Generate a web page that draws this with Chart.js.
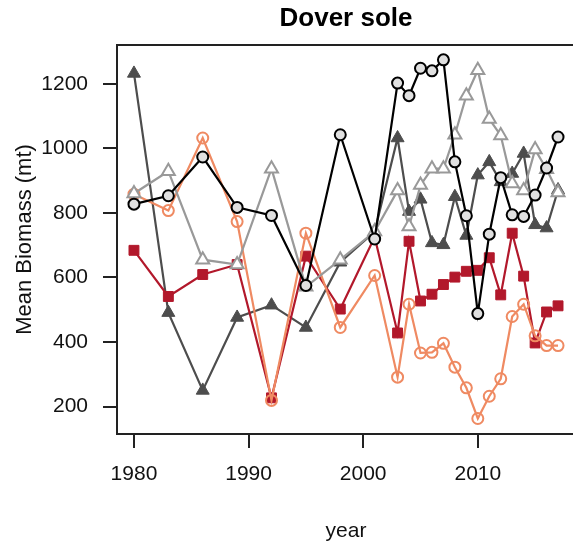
<!DOCTYPE html>
<html>
<head>
<meta charset="utf-8">
<script src="https://cdn.jsdelivr.net/npm/chart.js@4/dist/chart.umd.min.js"></script>
<style>
  html, body { margin: 0; padding: 0; background: #fff; overflow: hidden; }
  #wrap { width: 573px; height: 550px; overflow: hidden; }
</style>
</head>
<body>
<div id="wrap"><canvas id="soleChart" width="600" height="550"></canvas></div>
<script>
// survey years
const years = [1980, 1983, 1986, 1989, 1992, 1995, 1998, 2001, 2003, 2004, 2005, 2006,
    2007, 2008, 2009, 2010, 2011, 2012, 2013, 2014, 2015, 2016, 2017];

// mean biomass (mt) per series
const blackCircles = [827, 853, 973, 817, 792, 575, 1042, 719, 1202, 1163, 1248, 1240,
    1274, 958, 791, 488, 734, 909, 794, 789, 855, 939, 1035];
const greyOpenTriangles = [860, 929, 655, 640, 937, 571, 655, 742, 869, 758, 886, 937,
    937, 1042, 1163, 1242, 1091, 1040, 891, 869, 996, 935, 863];
const orangeOpenCircles = [858, 807, 1032, 773, 219, 737, 445, 606, 291, 517, 366, 368,
    396, 322, 258, 163, 232, 286, 479, 517, 419, 389, 389];
const redSquares = [684, 541, 609, 640, 227, 666, 502, 725, 428, 712, 527, 548,
    578, 601, 619, 622, 661, 546, 737, 604, 397, 493, 512];
const darkTriangles = [1232, 491, 250, 476, 514, 445, 647, 742, 1032, 804, 842, 707,
    701, 850, 730, 917, 958, 896, 922, 984, 763, 753, 871];

const xTicks = [1980, 1990, 2000, 2010];
const yTicks = [200, 400, 600, 800, 1000, 1200];

function toPoints(values) {
    return values.map((v, i) => ({ x: years[i], y: v }));
}

// top edge of the box (left + bottom come from the axis borders, right is off-canvas)
const topFrame = {
    id: 'topFrame',
    afterDraw(chart) {
        const { ctx, chartArea } = chart;
        ctx.save();
        ctx.strokeStyle = '#222';
        ctx.lineWidth = 2;
        ctx.beginPath();
        ctx.moveTo(chartArea.left - 1, chartArea.top);
        ctx.lineTo(chartArea.right + 1, chartArea.top);
        ctx.stroke();
        ctx.restore();
    }
};

const font = { family: '"Liberation Sans", Arial, sans-serif', size: 21 };

const ctx = document.getElementById('soleChart').getContext('2d');
new Chart(ctx, {
    type: 'line',
    data: {
        datasets: [
            {
                data: toPoints(blackCircles),
                borderColor: '#000', borderWidth: 2.2,
                pointStyle: 'circle', pointRadius: 5.5,
                pointBackgroundColor: '#E0E0E0', pointBorderColor: '#000', pointBorderWidth: 2
            },
            {
                data: toPoints(greyOpenTriangles),
                borderColor: '#999999', borderWidth: 2.2,
                pointStyle: 'triangle', pointRadius: 7.5,
                pointBackgroundColor: '#fff', pointBorderColor: '#999999', pointBorderWidth: 2
            },
            {
                data: toPoints(orangeOpenCircles),
                borderColor: '#EF8A62', borderWidth: 2.2,
                pointStyle: 'circle', pointRadius: 5.5,
                pointBackgroundColor: 'rgba(0,0,0,0)', pointBorderColor: '#EF8A62', pointBorderWidth: 2
            },
            {
                data: toPoints(redSquares),
                borderColor: '#B2182B', borderWidth: 2.2,
                pointStyle: 'rect', pointRadius: 7,
                pointBackgroundColor: '#B2182B', pointBorderColor: '#B2182B', pointBorderWidth: 1
            },
            {
                data: toPoints(darkTriangles),
                borderColor: '#4D4D4D', borderWidth: 2.2,
                pointStyle: 'triangle', pointRadius: 7.5,
                pointBackgroundColor: '#4D4D4D', pointBorderColor: '#4D4D4D', pointBorderWidth: 1
            }
        ]
    },
    options: {
        responsive: false,
        animation: false,
        layout: { padding: { top: 0, left: 0, right: 25, bottom: 0 } },
        elements: { line: { tension: 0 } },
        plugins: {
            legend: { display: false },
            tooltip: { enabled: false },
            title: {
                display: true,
                text: 'Dover sole',
                fullSize: false,
                color: '#000',
                font: { family: font.family, size: 26, weight: 'bold' },
                padding: { top: 3, bottom: 10.8 }
            }
        },
        scales: {
            x: {
                type: 'linear',
                min: 1978.52,
                max: 2018.48,
                afterBuildTicks: axis => { axis.ticks = xTicks.map(v => ({ value: v })); },
                afterFit: axis => { axis.height = 116; },
                border: { display: true, color: '#222', width: 2 },
                grid: { display: true, drawOnChartArea: false, drawTicks: true, tickLength: 14, color: '#222', lineWidth: 2 },
                ticks: { color: '#111', font: font, padding: 14, maxRotation: 0, callback: v => String(v) },
                title: { display: true, text: 'year', color: '#111', font: font, padding: { top: 0, bottom: 6 } }
            },
            y: {
                min: 115,
                max: 1320,
                afterBuildTicks: axis => { axis.ticks = yTicks.map(v => ({ value: v })); },
                afterFit: axis => { axis.width = 117; },
                border: { display: true, color: '#222', width: 2 },
                grid: { display: true, drawOnChartArea: false, drawTicks: true, tickLength: 14, color: '#222', lineWidth: 2 },
                ticks: { color: '#111', font: font, padding: 15, callback: v => String(v) },
                title: { display: true, text: 'Mean Biomass (mt)', color: '#111', font: { family: font.family, size: 22 }, padding: { top: 12, bottom: 0 } }
            }
        }
    },
    plugins: [topFrame]
});
</script>
</body>
</html>
